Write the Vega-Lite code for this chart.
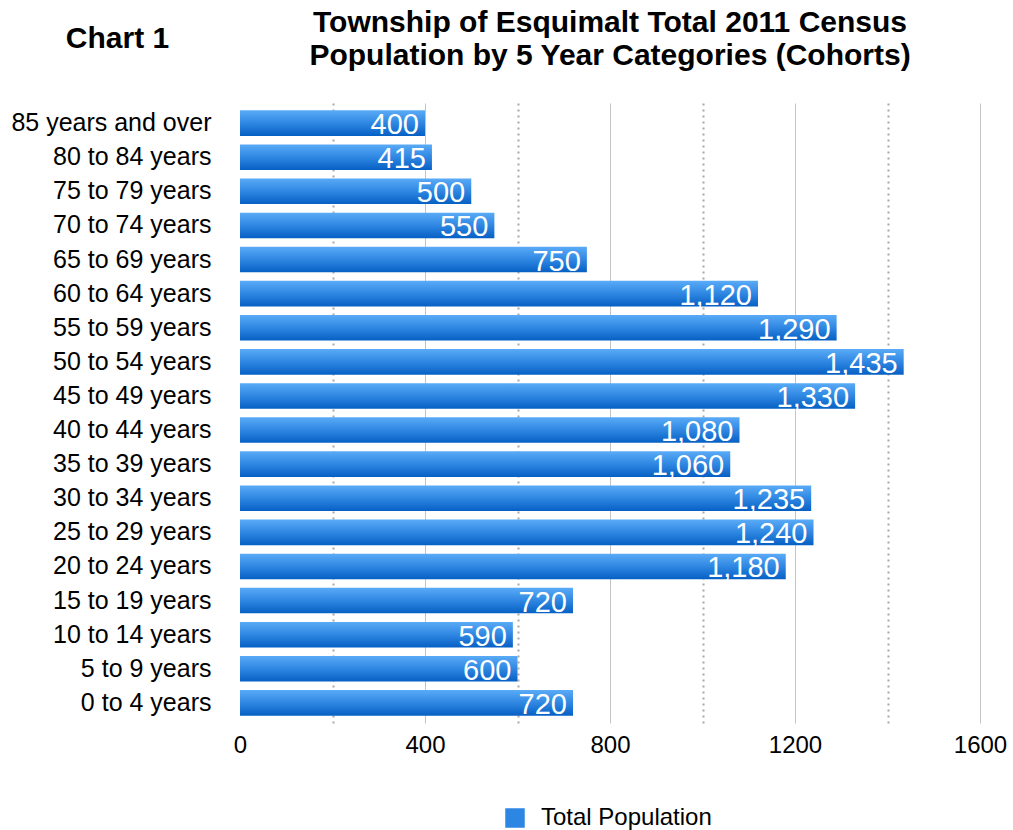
{
  "$schema": "https://vega.github.io/schema/vega-lite/v6.json",
  "width": 740,
  "height": 620,
  "autosize": {"type": "none"},
  "padding": {"left": 240, "top": 103, "right": 33, "bottom": 107},
  "background": "white",
  "title": {
    "text": ["Township of Esquimalt Total 2011 Census", "Population by 5 Year Categories (Cohorts)"],
    "anchor": "middle",
    "frame": "group",
    "font": "Liberation Sans",
    "fontSize": 30,
    "fontWeight": "bold",
    "color": "black",
    "lineHeight": 33,
    "baseline": "top",
    "offset": -48
  },
  "config": {
    "view": {"stroke": null},
    "font": "Liberation Sans"
  },
  "data": {
    "values": [
      {"cohort": "85 years and over", "population": 400, "series": "Total Population"},
      {"cohort": "80 to 84 years", "population": 415, "series": "Total Population"},
      {"cohort": "75 to 79 years", "population": 500, "series": "Total Population"},
      {"cohort": "70 to 74 years", "population": 550, "series": "Total Population"},
      {"cohort": "65 to 69 years", "population": 750, "series": "Total Population"},
      {"cohort": "60 to 64 years", "population": 1120, "series": "Total Population"},
      {"cohort": "55 to 59 years", "population": 1290, "series": "Total Population"},
      {"cohort": "50 to 54 years", "population": 1435, "series": "Total Population"},
      {"cohort": "45 to 49 years", "population": 1330, "series": "Total Population"},
      {"cohort": "40 to 44 years", "population": 1080, "series": "Total Population"},
      {"cohort": "35 to 39 years", "population": 1060, "series": "Total Population"},
      {"cohort": "30 to 34 years", "population": 1235, "series": "Total Population"},
      {"cohort": "25 to 29 years", "population": 1240, "series": "Total Population"},
      {"cohort": "20 to 24 years", "population": 1180, "series": "Total Population"},
      {"cohort": "15 to 19 years", "population": 720, "series": "Total Population"},
      {"cohort": "10 to 14 years", "population": 590, "series": "Total Population"},
      {"cohort": "5 to 9 years", "population": 600, "series": "Total Population"},
      {"cohort": "0 to 4 years", "population": 720, "series": "Total Population"}
    ]
  },
  "encoding": {
    "y": {
      "field": "cohort",
      "type": "nominal",
      "sort": null,
      "scale": {"paddingInner": 0.25, "paddingOuter": 0.215},
      "axis": {
        "title": "Chart 1",
        "titleAngle": 0,
        "titleAlign": "center",
        "titleBaseline": "alphabetic",
        "titleX": -123,
        "titleY": -56,
        "titleFont": "Liberation Sans",
        "titleFontSize": 30,
        "titleFontWeight": "bold",
        "titleColor": "black",
        "domain": false,
        "ticks": false,
        "labelPadding": 29,
        "labelFont": "Liberation Sans",
        "labelFontSize": 25,
        "labelColor": "black",
        "labelLimit": 300
      }
    },
    "x": {
      "field": "population",
      "type": "quantitative",
      "scale": {"domain": [0, 1600], "nice": false},
      "axis": {
        "title": null,
        "values": [0, 200, 400, 600, 800, 1000, 1200, 1400, 1600],
        "labelExpr": "datum.value % 400 === 0 ? format(datum.value, 'd') : ''",
        "domain": false,
        "ticks": false,
        "labelPadding": 10,
        "labelFont": "Liberation Sans",
        "labelFontSize": 24,
        "labelColor": "black",
        "labelFlush": false,
        "grid": true,
        "gridColor": {"condition": {"test": "datum.value % 400 === 0", "value": "#c4c4c4"}, "value": "#a8a8a8"},
        "gridWidth": {"condition": {"test": "datum.value % 400 === 0", "value": 1}, "value": 2},
        "gridDash": {"condition": {"test": "datum.value % 400 === 0", "value": []}, "value": [2, 4]},
        "gridOpacity": {"condition": {"test": "datum.value === 0", "value": 0}, "value": 1}
      }
    }
  },
  "layer": [
    {
      "mark": {"type": "bar", "opacity": 0},
      "encoding": {
        "color": {
          "field": "series",
          "type": "nominal",
          "scale": {"range": ["#2d86e2"]},
          "legend": {
            "title": null,
            "orient": "none",
            "legendX": 263,
            "legendY": 703,
            "padding": 0,
            "symbolType": "square",
            "symbolSize": 380,
            "symbolOpacity": 1,
            "symbolStrokeWidth": 0,
            "labelFont": "Liberation Sans",
            "labelFontSize": 24,
            "labelColor": "black",
            "labelOffset": 14,
            "labelLimit": 400,
            "encode": {
              "symbols": {
                "update": {
                  "fill": {
                    "value": {
                      "gradient": "linear",
                      "x1": 0, "y1": 0, "x2": 0, "y2": 1,
                      "stops": [
                        {"offset": 0, "color": "#5aabf7"},
                        {"offset": 0.5, "color": "#2f87e2"},
                        {"offset": 1, "color": "#0660c4"}
                      ]
                    }
                  },
                  "opacity": {"value": 1}
                }
              }
            }
          }
        }
      }
    },
    {
      "mark": {
        "type": "bar",
        "fill": {
          "gradient": "linear",
          "x1": 0, "y1": 0, "x2": 0, "y2": 1,
          "stops": [
            {"offset": 0, "color": "#5aabf7"},
            {"offset": 0.5, "color": "#2f87e2"},
            {"offset": 1, "color": "#0660c4"}
          ]
        }
      }
    },
    {
      "mark": {
        "type": "text",
        "align": "right",
        "baseline": "middle",
        "dx": -6,
        "dy": 2,
        "font": "Liberation Sans",
        "fontSize": 29,
        "color": "white"
      },
      "encoding": {
        "text": {"field": "population", "type": "quantitative", "format": ","}
      }
    }
  ]
}
